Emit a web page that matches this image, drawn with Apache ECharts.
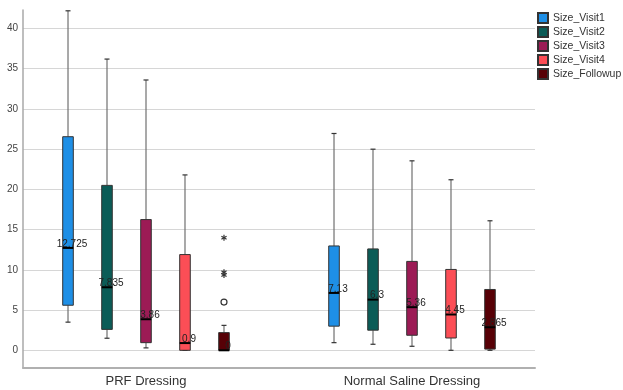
<!DOCTYPE html>
<html>
<head>
<meta charset="utf-8">
<script src="https://cdn.jsdelivr.net/npm/echarts@6/dist/echarts.min.js"></script>
<style>html,body{margin:0;padding:0;background:#fff;}#c{width:623px;height:390px;}</style>
</head>
<body>
<div id="c"></div>
<script>
// ---- data ----
var groups = ['PRF Dressing', 'Normal Saline Dressing'];
var seriesNames = ['Size_Visit1', 'Size_Visit2', 'Size_Visit3', 'Size_Visit4', 'Size_Followup'];
// each row: [lowWhisker, Q1, median, Q3, highWhisker] for PRF, Normal Saline
var visit1   = [[3.5, 5.6, 12.725, 26.55, 42.2], [0.95, 3.0, 7.13, 12.97, 26.95]];
var visit2   = [[1.5, 2.6, 7.835, 20.5, 36.2],   [0.75, 2.5, 6.3, 12.6, 25.0]];
var visit3   = [[0.3, 0.95, 3.86, 16.25, 33.6],  [0.5, 1.87, 5.36, 11.05, 23.55]];
var visit4   = [[0, 0, 0.9, 11.9, 21.8],         [0, 1.53, 4.45, 10.05, 21.2]];
var followup = [[0, 0, 0, 2.2, 3.1],             [0, 0.15, 2.865, 7.56, 16.1]];
// outliers: [groupIndex, seriesIndex, value, kind] kind 0 = circle, 1 = extreme (*)
var outliers = [[0, 4, 6.0, 0], [0, 4, 14.0, 1], [0, 4, 9.7, 1], [0, 4, 9.35, 1]];
var yTicks = [0, 5, 10, 15, 20, 25, 30, 35, 40];

var allSeries = [visit1, visit2, visit3, visit4, followup];
var colors = ['#1e8fe6', '#0b5c57', '#9c1b55', '#fc4e56', '#570006'];

var SPACING = 0.1466;  // distance between boxes, in group units
var HALFW = 0.0199;    // half box width, in group units
var FONT = '"Liberation Sans", Arial, sans-serif';

function boxRender(si) {
  return function (params, api) {
    var g = api.value(0);
    var unit = api.size([1, 0])[0];
    var off = (si - 2) * SPACING * unit;
    var hw = HALFW * unit;
    var cx = api.coord([g, api.value(3)])[0] + off;
    var yLow = api.coord([g, api.value(1)])[1];
    var yQ1 = api.coord([g, api.value(2)])[1];
    var yMed = api.coord([g, api.value(3)])[1];
    var yQ3 = api.coord([g, api.value(4)])[1];
    var yHigh = api.coord([g, api.value(5)])[1];
    var capW = 2.5;
    var wh = {stroke: '#707070', lineWidth: 1.2};
    var cap = {stroke: '#333', lineWidth: 1.2};
    return {
      type: 'group',
      children: [
        {type: 'line', shape: {x1: cx, y1: yHigh, x2: cx, y2: yQ3}, style: wh},
        {type: 'line', shape: {x1: cx, y1: yQ1, x2: cx, y2: yLow}, style: wh},
        {type: 'line', shape: {x1: cx - capW, y1: yHigh, x2: cx + capW, y2: yHigh}, style: cap},
        {type: 'line', shape: {x1: cx - capW, y1: yLow, x2: cx + capW, y2: yLow}, style: cap},
        {type: 'rect', shape: {x: cx - hw, y: yQ3, width: hw * 2, height: Math.max(yQ1 - yQ3, 0.5)},
          style: {fill: colors[si], stroke: '#333', lineWidth: 1}},
        {type: 'line', shape: {x1: cx - hw, y1: yMed, x2: cx + hw, y2: yMed}, style: {stroke: '#000', lineWidth: 2}},
        {type: 'text', style: {text: String(api.value(3)), x: cx + 4, y: yMed + 1, align: 'center', verticalAlign: 'bottom',
          fill: '#222', fontSize: 10, fontFamily: FONT}}
      ]
    };
  };
}

function outlierRender(params, api) {
  var g = api.value(0);
  var si = api.value(1);
  var unit = api.size([1, 0])[0];
  var p = api.coord([g, api.value(2)]);
  var cx = p[0] + (si - 2) * SPACING * unit;
  var cy = p[1];
  if (api.value(3) === 0) {
    return {type: 'circle', shape: {cx: cx, cy: cy, r: 3}, style: {fill: '#fff', stroke: '#333', lineWidth: 1.2}};
  }
  var r = 3, ch = [];
  for (var k = 0; k < 3; k++) {
    var a = Math.PI / 2 + k * Math.PI / 3;
    ch.push({type: 'line', shape: {x1: cx - r * Math.cos(a), y1: cy - r * Math.sin(a), x2: cx + r * Math.cos(a), y2: cy + r * Math.sin(a)},
      style: {stroke: '#333', lineWidth: 1.2}});
  }
  return {type: 'group', children: ch};
}

var series = seriesNames.map(function (name, si) {
  return {
    name: name,
    type: 'custom',
    coordinateSystem: 'cartesian2d',
    renderItem: boxRender(si),
    itemStyle: {color: colors[si], borderColor: '#333', borderWidth: 1},
    encode: {x: 0, y: [1, 2, 3, 4, 5]},
    data: allSeries[si].map(function (row, gi) { return [gi].concat(row); }),
    silent: true
  };
});
series.push({
  name: 'outliers',
  type: 'custom',
  coordinateSystem: 'cartesian2d',
  renderItem: outlierRender,
  encode: {x: 0, y: 2},
  data: outliers,
  silent: true
});

var chart = echarts.init(document.getElementById('c'), null, {renderer: 'canvas'});
chart.setOption({
  animation: false,
  backgroundColor: '#fff',
  grid: {left: 23, right: 88, top: 10, bottom: 22, containLabel: false},
  legend: {
    data: seriesNames,
    orient: 'vertical',
    left: 537, top: 12,
    padding: 0,
    itemWidth: 10, itemHeight: 10, itemGap: 2,
    icon: 'rect',
    textStyle: {fontSize: 10.5, color: '#333', fontFamily: FONT, lineHeight: 10.5}
  },
  xAxis: {
    type: 'value',
    min: -0.4624, max: 1.4624,
    minInterval: 1, maxInterval: 1,
    axisLine: {show: true, onZero: false, lineStyle: {color: '#b0b0b0', width: 2}},
    axisTick: {show: false},
    splitLine: {show: false},
    axisLabel: {
      showMinLabel: false, showMaxLabel: false,
      margin: 7, fontSize: 13, color: '#333', fontFamily: FONT,
      formatter: function (v) { return Number.isInteger(v) && groups[v] !== undefined ? groups[v] : ''; }
    }
  },
  yAxis: {
    type: 'value',
    min: -2.2, max: 42.3,
    minInterval: 5, maxInterval: 5,
    axisLine: {show: true, onZero: false, lineStyle: {color: '#a8a8a8', width: 1.5}},
    axisTick: {show: false},
    splitLine: {show: true, showMinLine: false, showMaxLine: false, lineStyle: {color: '#d6d6d6', width: 1.2}},
    axisLabel: {
      showMinLabel: false, showMaxLabel: false,
      margin: 5, fontSize: 10, color: '#444', fontFamily: FONT,
      formatter: function (v) { return yTicks.indexOf(v) >= 0 ? String(v) : ''; }
    }
  },
  series: series
});
</script>
</body>
</html>
